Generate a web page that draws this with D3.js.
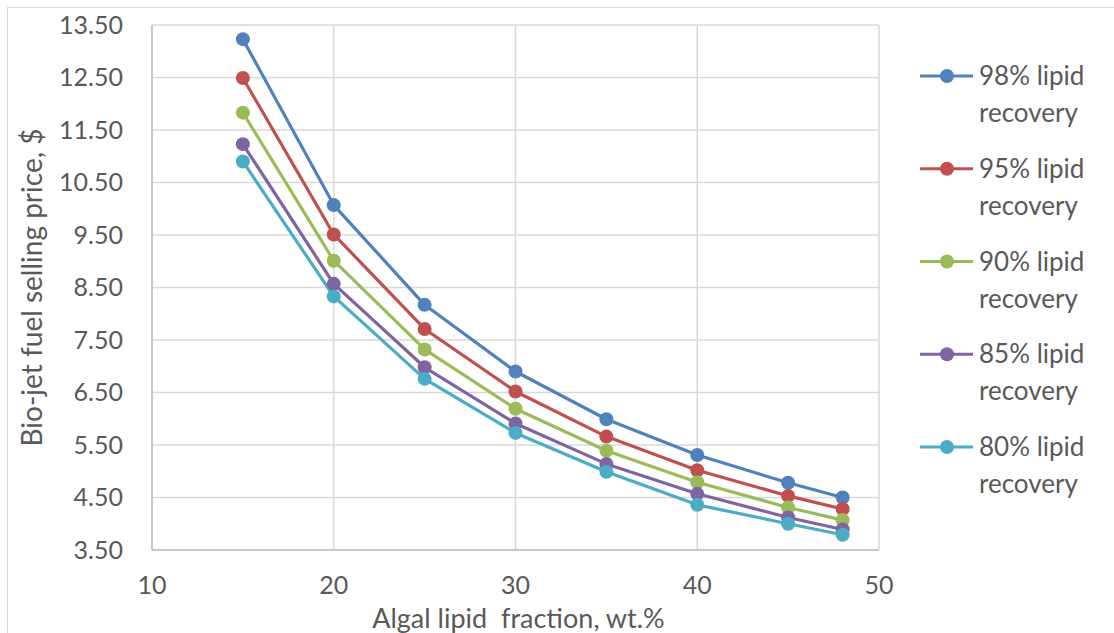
<!DOCTYPE html>
<html><head><meta charset="utf-8">
<script src="https://cdn.jsdelivr.net/npm/d3@7"></script>
<style>body{margin:0;background:#fff}svg{display:block}text{font-family:Lato,"Open Sans",sans-serif;fill:#595959}</style>
</head><body>
<script>
const fractions = [15, 20, 25, 30, 35, 40, 45, 48];
const seriesNames = ["98% lipid recovery", "95% lipid recovery", "90% lipid recovery", "85% lipid recovery", "80% lipid recovery"];
const s98 = [13.23, 10.07, 8.17, 6.90, 5.99, 5.31, 4.78, 4.50];
const s95 = [12.49, 9.51, 7.71, 6.52, 5.66, 5.02, 4.53, 4.28];
const s90 = [11.83, 9.01, 7.32, 6.19, 5.39, 4.79, 4.31, 4.07];
const s85 = [11.23, 8.57, 6.98, 5.91, 5.14, 4.57, 4.12, 3.89];
const s80 = [10.90, 8.33, 6.76, 5.73, 4.99, 4.36, 4.00, 3.79];
const xTicks = [10, 20, 30, 40, 50];
const yTicks = [3.5, 4.5, 5.5, 6.5, 7.5, 8.5, 9.5, 10.5, 11.5, 12.5, 13.5];
const colors = ["#4F81BD", "#C0504D", "#9BBB59", "#8064A2", "#4BACC6"];
const allSeries = [s98, s95, s90, s85, s80];

const W = 1114, H = 633;
const svg = d3.select("body").append("svg").attr("width", W).attr("height", H);
svg.append("rect").attr("x", 7.5).attr("y", 7.5).attr("width", W).attr("height", H)
  .attr("fill", "none").attr("stroke", "#d9d9d9").attr("stroke-width", 1);

const L = 152, R = 879, T = 25, B = 550;
const x = d3.scaleLinear().domain([10, 50]).range([L, R]);
const y = d3.scaleLinear().domain([3.5, 13.5]).range([B, T]);

// gridlines
const g = svg.append("g");
g.selectAll(".hg").data(yTicks).join("line")
  .attr("x1", L).attr("x2", R).attr("y1", d => y(d)).attr("y2", d => y(d))
  .attr("stroke", "#d9d9d9").attr("stroke-width", 1.5);
g.selectAll(".vg").data(xTicks).join("line")
  .attr("y1", T).attr("y2", B).attr("x1", d => x(d)).attr("x2", d => x(d))
  .attr("stroke", "#d9d9d9").attr("stroke-width", 1.5);
// axis lines
g.append("line").attr("x1", L).attr("x2", L).attr("y1", T).attr("y2", B).attr("stroke", "#bfbfbf").attr("stroke-width", 1.5);
g.append("line").attr("x1", L).attr("x2", R).attr("y1", B).attr("y2", B).attr("stroke", "#bfbfbf").attr("stroke-width", 1.5);

// tick labels
svg.selectAll(".yl").data(yTicks).join("text")
  .attr("x", 123).attr("y", d => y(d)).attr("dy", "0.35em").attr("text-anchor", "end")
  .attr("font-size", 25).text(d => d.toFixed(2));
svg.selectAll(".xl").data(xTicks).join("text")
  .attr("x", d => x(d)).attr("y", 594).attr("text-anchor", "middle")
  .attr("font-size", 25).text(d => d);

// axis titles
svg.append("text").attr("transform", `translate(42,${(T + B) / 2}) rotate(-90)`)
  .attr("text-anchor", "middle").attr("font-size", 28).text("Bio-jet fuel selling price, $");
svg.append("text").attr("x", (L + R) / 2 + 3).attr("y", 628).attr("text-anchor", "middle")
  .attr("font-size", 27).style("white-space", "pre").text("Algal lipid  fraction, wt.%");

// series
const line = d3.line().x((d, i) => x(fractions[i])).y(d => y(d));
allSeries.forEach((s, k) => {
  svg.append("path").datum(s).attr("d", line).attr("fill", "none")
    .attr("stroke", colors[k]).attr("stroke-width", 3.2).attr("stroke-linejoin", "round");
});
allSeries.forEach((s, k) => {
  svg.append("g").selectAll("circle").data(s).join("circle")
    .attr("cx", (d, i) => x(fractions[i])).attr("cy", d => y(d)).attr("r", 7)
    .attr("fill", colors[k]);
});

// legend
seriesNames.forEach((name, k) => {
  const cy = 76 + k * 92.75;
  const lg = svg.append("g");
  lg.append("line").attr("x1", 920).attr("x2", 973).attr("y1", cy).attr("y2", cy)
    .attr("stroke", colors[k]).attr("stroke-width", 3.2);
  lg.append("circle").attr("cx", 947).attr("cy", cy).attr("r", 7).attr("fill", colors[k]);
  const parts = name.split(" ");
  lg.append("text").attr("x", 979).attr("y", cy).attr("dy", "0.35em").attr("font-size", 26)
    .text(parts[0] + " " + parts[1]);
  lg.append("text").attr("x", 979).attr("y", cy + 37).attr("dy", "0.35em").attr("font-size", 26)
    .text(parts[2]);
});
</script>
</body></html>
